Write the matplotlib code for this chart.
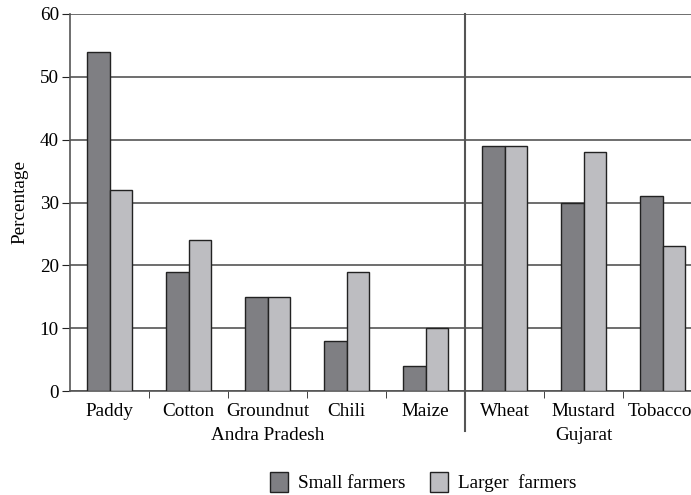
import matplotlib.pyplot as plt
import matplotlib.transforms as mtransforms
import numpy as np
from matplotlib.patches import Patch

# data
crops = ['Paddy', 'Cotton', 'Groundnut', 'Chili', 'Maize', 'Wheat', 'Mustard', 'Tobacco']
small = [54, 19, 15, 8, 4, 39, 30, 31]
larger = [32, 24, 15, 19, 10, 39, 38, 23]
states = ['Andra Pradesh', 'Gujarat']
state_centers = [2, 6]

plt.rcParams['font.family'] = ['Liberation Serif', 'DejaVu Serif']
plt.rcParams['font.size'] = 13.8

dark = '#7f7f83'
light = '#bdbdc1'
line_col = '#555555'

fig = plt.figure(figsize=(6.91, 4.95), dpi=100)
ax = fig.add_axes([70/691, 104/495, 1 - 70/691, 377/495])

x = np.arange(len(crops))
w = 0.29
ax.bar(x - w/2, small, w, color=dark, edgecolor='#222222', linewidth=1.0, zorder=3)
ax.bar(x + w/2, larger, w, color=light, edgecolor='#222222', linewidth=1.0, zorder=3)

ax.set_ylim(0, 60)
ax.set_xlim(-0.5, 7.36)
ax.set_yticks(range(0, 61, 10))
ax.yaxis.grid(True, color=line_col, linewidth=1.2, zorder=0)
ax.set_axisbelow(True)

for s in ['top', 'right']:
    ax.spines[s].set_visible(False)
for s in ['left', 'bottom']:
    ax.spines[s].set_color(line_col)
    ax.spines[s].set_linewidth(1.2)

ax.set_xticks(x)
ax.set_xticklabels(crops)
ax.tick_params(axis='x', which='major', length=0, pad=9)
ax.set_xticks(np.arange(0.5, 7, 1), minor=True)
ax.tick_params(axis='x', which='minor', length=5, color='#222222')
ax.tick_params(axis='y', length=6, color='#222222', pad=2)

# last label sits right at the edge; nudge it in a little
last = ax.get_xticklabels()[-1]
last.set_transform(last.get_transform() + mtransforms.ScaledTranslation(-3/100, 0, fig.dpi_scale_trans))

# separator between the two states
ax.plot([4.5, 4.5], [60, -6.3], color=line_col, linewidth=1.5, clip_on=False, zorder=4)

for name, c in zip(states, state_centers):
    ax.text(c, -7.1, name, ha='center', va='center', transform=ax.transData)

ax.set_ylabel('Percentage', labelpad=8)

handles = [Patch(facecolor=dark, edgecolor='#222222', label='Small farmers'),
           Patch(facecolor=light, edgecolor='#222222', label='Larger  farmers')]
fig.legend(handles=handles, loc='center', bbox_to_anchor=(423/691, 1 - 482/495),
           ncol=2, frameon=False, handlelength=0.95, handleheight=1.3,
           handletextpad=0.5, columnspacing=1.3)

fig.savefig('out.png', dpi=100)
